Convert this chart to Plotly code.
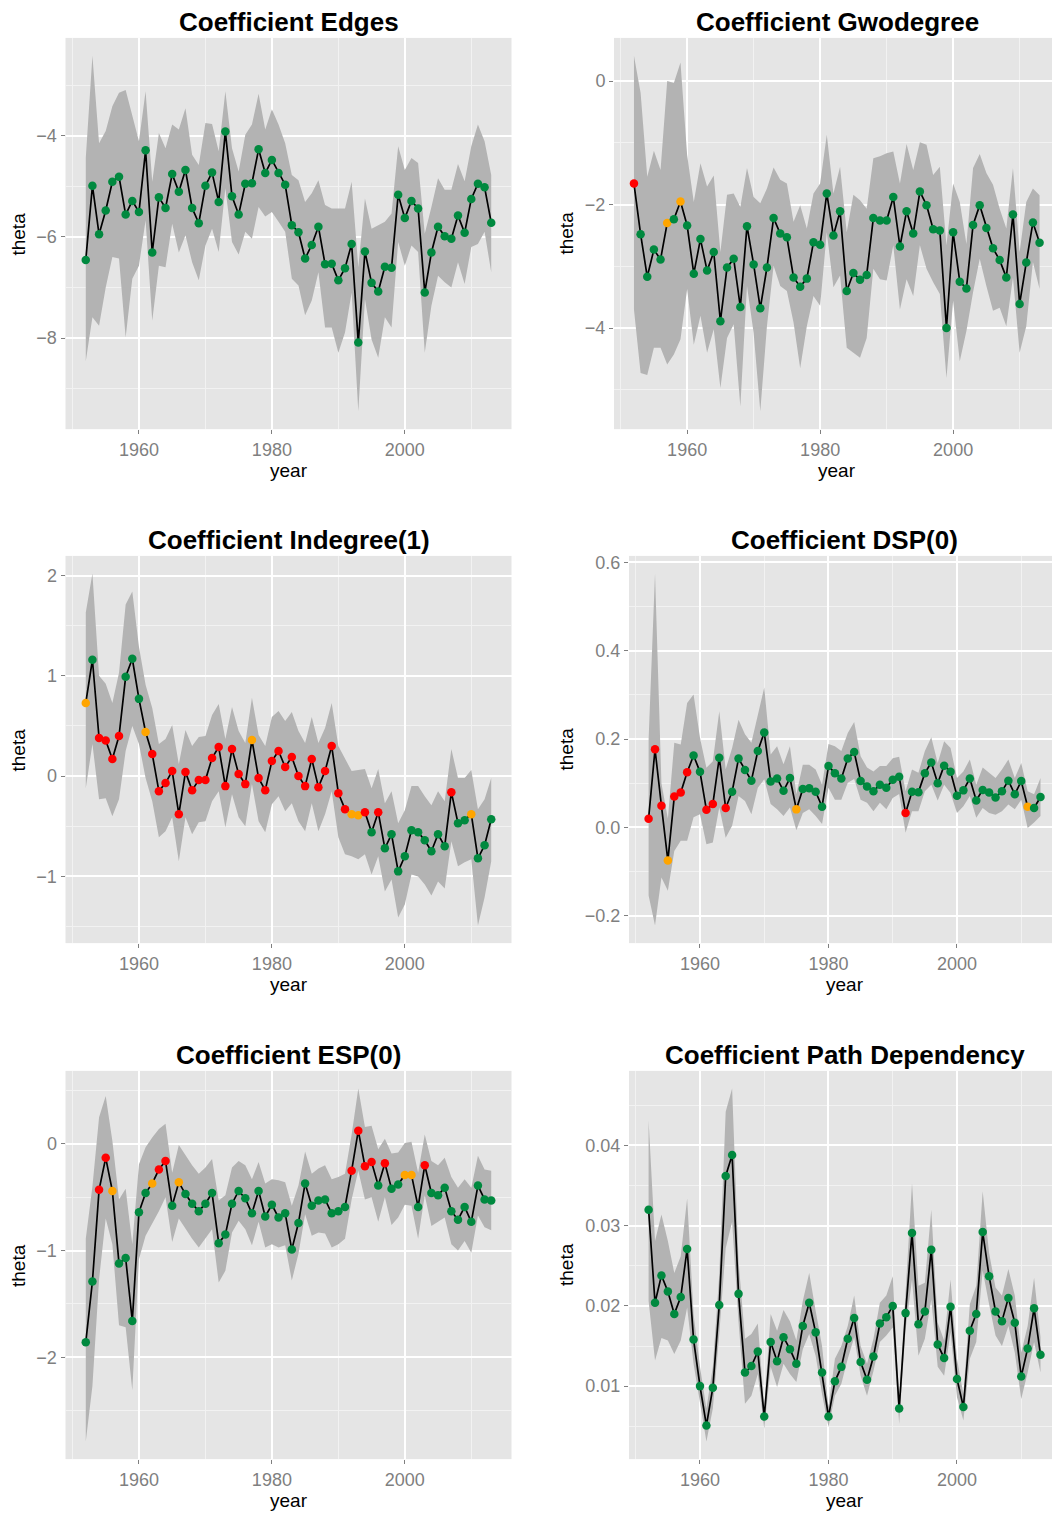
import plotly.graph_objects as go

# ---- data -------------------------------------------------------------
years = list(range(1952, 2014))

# Coefficient Edges
edges_est = [-6.46, -4.99, -5.95, -5.48, -4.91, -4.81, -5.56, -5.29, -5.51, -4.29,
             -6.31, -5.22, -5.43, -4.76, -5.11, -4.68, -5.43, -5.73, -4.99, -4.73,
             -5.31, -3.92, -5.20, -5.56, -4.95, -4.94, -4.27, -4.74, -4.48, -4.74,
             -4.97, -5.77, -5.91, -6.43, -6.16, -5.80, -6.54, -6.53, -6.86, -6.62,
             -6.14, -8.09, -6.29, -6.91, -7.08, -6.59, -6.61, -5.17, -5.63, -5.29,
             -5.44, -7.10, -6.31, -5.80, -5.99, -6.04, -5.58, -5.92, -5.25, -4.95,
             -5.02, -5.72]
edges_lo = [-8.46, -7.59, -7.76, -7.00, -6.40, -6.43, -7.99, -6.83, -6.57, -5.67,
            -7.66, -6.57, -6.60, -5.74, -6.31, -5.97, -6.50, -6.86, -6.17, -5.84,
            -6.30, -5.04, -6.10, -6.35, -5.90, -6.04, -5.41, -5.60, -5.51, -5.70,
            -5.90, -6.83, -6.96, -7.55, -7.26, -6.70, -7.79, -7.79, -8.29, -7.89,
            -7.10, -9.45, -7.23, -8.03, -8.39, -7.59, -7.79, -6.10, -6.57, -6.17,
            -6.30, -8.29, -7.36, -6.77, -6.90, -7.00, -6.50, -6.93, -6.20, -6.14,
            -5.90, -6.70]
edges_hi = [-4.44, -2.42, -4.15, -3.91, -3.42, -3.15, -3.10, -3.58, -4.11, -3.12,
            -4.91, -3.95, -4.25, -3.78, -3.88, -3.46, -4.38, -4.58, -3.75, -3.77,
            -4.31, -3.12, -4.25, -4.71, -3.98, -3.78, -3.17, -3.88, -3.48, -3.78,
            -4.15, -4.78, -4.88, -5.31, -5.14, -4.88, -5.37, -5.44, -5.44, -5.44,
            -4.91, -6.60, -5.24, -5.84, -5.77, -5.70, -5.54, -4.21, -4.68, -4.44,
            -4.54, -5.94, -5.41, -4.84, -5.07, -5.07, -4.56, -4.90, -4.21, -3.78,
            -4.11, -4.78]
edges_sig = "g" * 62

# Coefficient Gwodegree
gwd_est = [-1.66, -2.48, -3.17, -2.73, -2.89, -2.30, -2.24, -1.95, -2.34, -3.12,
           -2.56, -3.07, -2.77, -3.89, -3.02, -2.88, -3.66, -2.35, -2.97, -3.68,
           -3.02, -2.22, -2.47, -2.53, -3.18, -3.33, -3.20, -2.61, -2.65, -1.82,
           -2.50, -2.11, -3.40, -3.11, -3.22, -3.14, -2.22, -2.26, -2.26, -1.88,
           -2.68, -2.11, -2.47, -1.79, -2.01, -2.40, -2.42, -4.00, -2.45, -3.25,
           -3.36, -2.33, -2.01, -2.38, -2.71, -2.90, -3.18, -2.16, -3.61, -2.94,
           -2.29, -2.62]
gwd_lo = [-3.70, -4.73, -4.76, -4.32, -4.32, -4.59, -4.43, -4.18, -3.37, -4.27,
          -3.80, -4.40, -4.02, -4.97, -4.16, -3.94, -5.27, -3.32, -4.08, -5.35,
          -3.97, -2.99, -3.32, -3.40, -3.91, -4.65, -3.97, -3.48, -3.64, -2.45,
          -3.34, -3.15, -4.32, -4.40, -4.48, -4.16, -3.04, -3.21, -3.23, -2.66,
          -3.70, -3.21, -3.48, -2.66, -3.04, -3.26, -3.45, -4.81, -3.56, -4.54,
          -4.05, -3.42, -2.88, -3.32, -3.72, -3.67, -3.97, -3.18, -4.40, -3.97,
          -2.93, -3.37]
gwd_hi = [0.41, -0.19, -1.55, -1.13, -1.44, 0.00, -0.03, 0.30, -1.20, -1.96,
          -1.33, -1.71, -1.53, -2.77, -1.84, -1.82, -2.04, -1.41, -1.88, -1.98,
          -1.74, -1.40, -1.60, -1.66, -2.28, -2.01, -2.39, -1.82, -1.66, -0.87,
          -1.82, -1.39, -2.45, -1.84, -1.93, -2.07, -1.25, -1.22, -1.17, -1.14,
          -1.66, -1.02, -1.44, -0.99, -1.03, -1.52, -1.39, -2.66, -1.66, -1.96,
          -2.64, -1.41, -1.18, -1.49, -1.68, -2.07, -2.39, -1.41, -2.77, -1.96,
          -1.74, -1.85]
gwd_sig = "rggggogogg" + "g" * 52

# Coefficient Indegree(1)
indeg_est = [0.73, 1.16, 0.38, 0.355, 0.17, 0.40, 0.99, 1.17, 0.77, 0.44,
             0.22, -0.15, -0.07, 0.05, -0.38, 0.04, -0.14, -0.04, -0.04, 0.18,
             0.29, -0.10, 0.27, 0.02, -0.08, 0.36, -0.02, -0.14, 0.15, 0.25,
             0.09, 0.19, 0.00, -0.10, 0.17, -0.11, 0.05, 0.30, -0.17, -0.33,
             -0.38, -0.39, -0.36, -0.56, -0.36, -0.72, -0.58, -0.95, -0.80, -0.54,
             -0.56, -0.64, -0.75, -0.58, -0.70, -0.16, -0.47, -0.44, -0.38, -0.82,
             -0.69, -0.43]
indeg_lo = [-0.12, 0.32, -0.23, -0.22, -0.40, -0.23, 0.25, 0.50, 0.32, -0.02,
            -0.25, -0.61, -0.55, -0.41, -0.85, -0.41, -0.58, -0.46, -0.45, -0.25,
            -0.15, -0.51, -0.18, -0.41, -0.50, -0.08, -0.45, -0.56, -0.28, -0.20,
            -0.35, -0.27, -0.45, -0.55, -0.27, -0.55, -0.38, -0.15, -0.61, -0.78,
            -0.80, -0.83, -0.78, -0.98, -0.80, -1.15, -1.03, -1.41, -1.28, -0.98,
            -1.00, -1.08, -1.19, -1.05, -1.12, -0.65, -0.90, -0.86, -0.83, -1.49,
            -1.21, -0.85]
indeg_hi = [1.63, 2.02, 1.00, 0.92, 0.73, 1.03, 1.71, 1.84, 1.29, 0.91,
            0.68, 0.32, 0.37, 0.51, 0.12, 0.46, 0.30, 0.39, 0.40, 0.61,
            0.72, 0.37, 0.69, 0.45, 0.33, 0.78, 0.41, 0.30, 0.59, 0.65,
            0.55, 0.64, 0.45, 0.33, 0.59, 0.33, 0.48, 0.73, 0.30, 0.17,
            0.05, 0.06, 0.07, -0.12, 0.07, -0.27, -0.15, -0.47, -0.34, -0.10,
            -0.10, -0.20, -0.29, -0.15, -0.25, 0.27, -0.02, -0.02, 0.06, -0.33,
            -0.23, -0.02]
indeg_sig = ("ogrrrrgggo" "rrrrrrrrrr" "rrrrrorrrr" "rrrrrrrrrr"
             "oorgrggggg" "gggggrggog" "gg")

# Coefficient DSP(0)
dsp_est = [0.020, 0.177, 0.049, -0.075, 0.070, 0.079, 0.125, 0.163, 0.126, 0.040,
           0.053, 0.158, 0.044, 0.081, 0.156, 0.130, 0.106, 0.173, 0.215, 0.104,
           0.111, 0.083, 0.112, 0.041, 0.087, 0.089, 0.081, 0.047, 0.139, 0.123,
           0.111, 0.156, 0.171, 0.105, 0.093, 0.082, 0.097, 0.090, 0.108, 0.115,
           0.033, 0.081, 0.080, 0.123, 0.147, 0.100, 0.140, 0.126, 0.072, 0.084,
           0.111, 0.061, 0.085, 0.079, 0.068, 0.082, 0.106, 0.075, 0.105, 0.047,
           0.044, 0.069]
dsp_lo = [-0.154, -0.222, -0.113, -0.143, -0.053, -0.030, -0.030, 0.023, 0.030, -0.038,
          -0.034, 0.045, -0.023, 0.004, 0.071, 0.060, 0.030, 0.090, 0.109, 0.053,
          0.041, 0.026, 0.045, -0.006, 0.033, 0.041, 0.026, 0.008, 0.090, 0.063,
          0.063, 0.101, 0.110, 0.063, 0.056, 0.037, 0.056, 0.041, 0.067, 0.076,
          -0.012, 0.037, 0.037, 0.082, 0.097, 0.061, 0.097, 0.078, 0.033, 0.048,
          0.071, 0.022, 0.044, 0.033, 0.029, 0.037, 0.052, 0.041, 0.063, -0.001,
          0.011, 0.026]
dsp_hi = [0.200, 0.575, 0.100, 0.020, 0.192, 0.188, 0.282, 0.301, 0.203, 0.135,
          0.150, 0.263, 0.132, 0.180, 0.244, 0.211, 0.192, 0.256, 0.317, 0.165,
          0.184, 0.143, 0.184, 0.075, 0.142, 0.142, 0.131, 0.097, 0.189, 0.184,
          0.173, 0.214, 0.239, 0.161, 0.136, 0.127, 0.139, 0.139, 0.157, 0.160,
          0.082, 0.131, 0.124, 0.173, 0.204, 0.146, 0.195, 0.180, 0.112, 0.127,
          0.154, 0.097, 0.136, 0.124, 0.112, 0.131, 0.154, 0.112, 0.146, 0.082,
          0.075, 0.112]
dsp_sig = ("rrrorrrggr" "rgrggggggg" "gggogggggg" "gggggggggg"
           "rggggggggg" "gggggggggo" "gg")

# Coefficient ESP(0)
esp_est = [-1.86, -1.29, -0.43, -0.13, -0.44, -1.12, -1.07, -1.66, -0.64, -0.46,
           -0.37, -0.24, -0.16, -0.58, -0.36, -0.47, -0.56, -0.63, -0.56, -0.46,
           -0.93, -0.85, -0.56, -0.44, -0.51, -0.65, -0.44, -0.68, -0.57, -0.69,
           -0.65, -0.99, -0.74, -0.37, -0.58, -0.53, -0.52, -0.65, -0.63, -0.59,
           -0.25, 0.125, -0.21, -0.17, -0.39, -0.18, -0.42, -0.38, -0.29, -0.29,
           -0.59, -0.20, -0.46, -0.48, -0.41, -0.63, -0.71, -0.59, -0.73, -0.39,
           -0.52, -0.53]
esp_lo = [-2.79, -2.27, -1.27, -0.70, -0.94, -1.70, -1.72, -2.31, -1.08, -0.86,
          -0.75, -0.63, -0.50, -0.92, -0.70, -0.80, -0.89, -0.97, -0.88, -0.80,
          -1.30, -1.19, -0.83, -0.72, -0.80, -0.95, -0.73, -0.97, -0.94, -0.97,
          -0.95, -1.28, -1.03, -0.66, -0.86, -0.83, -0.84, -0.97, -0.94, -0.89,
          -0.52, -0.25, -0.52, -0.50, -0.73, -0.50, -0.76, -0.69, -0.57, -0.58,
          -0.89, -0.48, -0.77, -0.73, -0.69, -0.94, -1.00, -0.91, -1.02, -0.67,
          -0.78, -0.81]
esp_hi = [-0.89, -0.40, 0.25, 0.45, 0.03, -0.52, -0.42, -0.94, -0.19, -0.03,
          0.06, 0.14, 0.19, -0.27, -0.01, -0.11, -0.20, -0.28, -0.22, -0.14,
          -0.53, -0.48, -0.22, -0.16, -0.20, -0.33, -0.17, -0.37, -0.33, -0.34,
          -0.36, -0.58, -0.39, -0.07, -0.28, -0.23, -0.20, -0.33, -0.31, -0.28,
          0.09, 0.52, 0.16, 0.17, -0.05, 0.05, -0.09, -0.08, 0.01, 0.02,
          -0.27, 0.09, -0.16, -0.20, -0.13, -0.31, -0.41, -0.33, -0.41, -0.11,
          -0.24, -0.25]
esp_sig = ("ggrroggggg" "orrgoggggg" "gggggggggg" "gggggggggg"
           "rrrrgrggoo" "grgggggggg" "gg")

# Coefficient Path Dependency
path_est = [0.0320, 0.0204, 0.0238, 0.0218, 0.0190, 0.0211, 0.0271, 0.0158, 0.0100, 0.0051,
            0.0098, 0.0201, 0.0362, 0.0388, 0.0215, 0.0117, 0.0125, 0.0143, 0.0062, 0.0155,
            0.0131, 0.0161, 0.0146, 0.0128, 0.0175, 0.0204, 0.0167, 0.0117, 0.0062, 0.0106,
            0.0124, 0.0159, 0.0185, 0.0130, 0.0108, 0.0137, 0.0178, 0.0186, 0.0200, 0.0072,
            0.0191, 0.0291, 0.0177, 0.0193, 0.0270, 0.0152, 0.0135, 0.0199, 0.0109, 0.0074,
            0.0169, 0.0190, 0.0292, 0.0237, 0.0193, 0.0181, 0.0210, 0.0179, 0.0112, 0.0147,
            0.0197, 0.0139]
path_lo = [0.0206, 0.0132, 0.0160, 0.0157, 0.0140, 0.0157, 0.0198, 0.0128, 0.0080, 0.0031,
           0.0072, 0.0165, 0.0272, 0.0305, 0.0180, 0.0078, 0.0088, 0.0115, 0.0047, 0.0124,
           0.0099, 0.0128, 0.0115, 0.0105, 0.0146, 0.0165, 0.0138, 0.0090, 0.0049, 0.0088,
           0.0103, 0.0134, 0.0161, 0.0113, 0.0088, 0.0119, 0.0155, 0.0163, 0.0173, 0.0053,
           0.0171, 0.0233, 0.0138, 0.0159, 0.0208, 0.0124, 0.0113, 0.0167, 0.0086, 0.0057,
           0.0134, 0.0155, 0.0244, 0.0202, 0.0163, 0.0150, 0.0175, 0.0142, 0.0084, 0.0117,
           0.0155, 0.0117]
path_hi = [0.0431, 0.0281, 0.0314, 0.0281, 0.0241, 0.0262, 0.0334, 0.0190, 0.0124, 0.0072,
           0.0124, 0.0239, 0.0442, 0.0471, 0.0256, 0.0159, 0.0165, 0.0178, 0.0074, 0.0190,
           0.0169, 0.0195, 0.0181, 0.0157, 0.0206, 0.0241, 0.0194, 0.0150, 0.0074, 0.0134,
           0.0150, 0.0175, 0.0213, 0.0150, 0.0128, 0.0159, 0.0204, 0.0213, 0.0237, 0.0084,
           0.0217, 0.0353, 0.0225, 0.0229, 0.0320, 0.0179, 0.0157, 0.0233, 0.0134, 0.0090,
           0.0202, 0.0225, 0.0343, 0.0266, 0.0223, 0.0213, 0.0246, 0.0213, 0.0142, 0.0175,
           0.0235, 0.0161]
path_sig = "g" * 62

# ---- styling ----------------------------------------------------------
W, H = 1052, 1516
FONT = "Liberation Sans, Arial, Helvetica, sans-serif"
SIG_COLORS = {"g": "#00893F", "o": "#FFA500", "r": "#FF0000"}
RIBBON = "#B3B3B3"
PANEL_BG = "#E5E5E5"
TICK_GREY = "#7F7F7F"

# panel boxes in pixels: left, top, bottom; box_w is the full panel width
panels = [
    dict(title="Coefficient Edges", est=edges_est, lo=edges_lo, hi=edges_hi, sig=edges_sig,
         box=(65.5, 35, 427), xr=(1948.95, 2016.05), box_w=446,
         ytick0=-4, ydtick=2, yminor=1, yfmt=None),
    dict(title="Coefficient Gwodegree", est=gwd_est, lo=gwd_lo, hi=gwd_hi, sig=gwd_sig,
         box=(614, 35, 427), xr=(1949.0, 2014.87), box_w=446,
         ytick0=0, ydtick=2, yminor=1, yfmt=None),
    dict(title="Coefficient Indegree(1)", est=indeg_est, lo=indeg_lo, hi=indeg_hi, sig=indeg_sig,
         box=(65.5, 554, 942), xr=(1948.95, 2016.05), box_w=446,
         ytick0=0, ydtick=1, yminor=0.5, yfmt=None),
    dict(title="Coefficient DSP(0)", est=dsp_est, lo=dsp_lo, hi=dsp_hi, sig=dsp_sig,
         box=(629, 554, 942), xr=(1948.95, 2014.79), box_w=431,
         ytick0=0, ydtick=0.2, yminor=0.1, yfmt=".1f"),
    dict(title="Coefficient ESP(0)", est=esp_est, lo=esp_lo, hi=esp_hi, sig=esp_sig,
         box=(65.5, 1070, 1459), xr=(1948.95, 2016.05), box_w=446,
         ytick0=0, ydtick=1, yminor=0.5, yfmt=None),
    dict(title="Coefficient Path Dependency", est=path_est, lo=path_lo, hi=path_hi, sig=path_sig,
         box=(629, 1070, 1459), xr=(1948.95, 2014.79), box_w=431,
         ytick0=0.01, ydtick=0.01, yminor=0.005, yfmt=".2f"),
]

fig = go.Figure()
layout = dict(
    width=W, height=H,
    margin=dict(l=0, r=0, t=0, b=0),
    paper_bgcolor="white",
    plot_bgcolor=PANEL_BG,
    showlegend=False,
    font=dict(family=FONT, color="black"),
)
annotations = []

for k, p in enumerate(panels):
    n = "" if k == 0 else str(k + 1)
    xa, ya = "x" + n, "y" + n
    left, top, bottom = p["box"]
    right = left + p["box_w"] if k % 2 == 0 else W
    col_centre = left + p["box_w"] / 2

    # confidence ribbon
    fig.add_trace(go.Scatter(
        x=years + years[::-1], y=p["hi"] + p["lo"][::-1],
        fill="toself", fillcolor=RIBBON, line=dict(width=0),
        mode="lines", hoverinfo="skip", xaxis=xa, yaxis=ya))
    # estimate line
    fig.add_trace(go.Scatter(
        x=years, y=p["est"], mode="lines",
        line=dict(color="black", width=1.7), xaxis=xa, yaxis=ya))
    # estimate points coloured by significance
    fig.add_trace(go.Scatter(
        x=years, y=p["est"], mode="markers",
        marker=dict(size=8.5, color=[SIG_COLORS[c] for c in p["sig"]], line=dict(width=0)),
        xaxis=xa, yaxis=ya))

    lo_all, hi_all = min(p["lo"]), max(p["hi"])
    span = hi_all - lo_all
    yr = (lo_all - 0.05 * span, hi_all + 0.05 * span)

    layout["xaxis" + n] = dict(
        domain=[left / W, right / W], anchor=ya, range=list(p["xr"]),
        tickmode="linear", tick0=1960, dtick=20,
        ticks="outside", ticklen=4, tickwidth=1, tickcolor=TICK_GREY,
        tickfont=dict(family=FONT, size=18, color=TICK_GREY),
        showgrid=True, gridcolor="white", gridwidth=1.6,
        minor=dict(tick0=1950, dtick=10, showgrid=True, gridcolor="#F2F2F2",
                   gridwidth=0.9, ticks=""),
        zeroline=False, showline=False, fixedrange=True)
    yax = dict(
        domain=[1 - bottom / H, 1 - top / H], anchor=xa, range=list(yr),
        tickmode="linear", tick0=p["ytick0"], dtick=p["ydtick"],
        ticks="outside", ticklen=4, tickwidth=1, tickcolor=TICK_GREY,
        tickfont=dict(family=FONT, size=18, color=TICK_GREY),
        showgrid=True, gridcolor="white", gridwidth=1.6,
        minor=dict(tick0=p["ytick0"], dtick=p["yminor"], showgrid=True,
                   gridcolor="#F2F2F2", gridwidth=0.9, ticks=""),
        zeroline=False, showline=False, fixedrange=True)
    if p["yfmt"]:
        yax["tickformat"] = p["yfmt"]
    layout["yaxis" + n] = yax

    # panel title, x title, y title
    annotations.append(dict(
        text="<b>" + p["title"] + "</b>", x=col_centre / W, y=1 - (top - 15.5) / H,
        xref="paper", yref="paper", xanchor="center", yanchor="middle",
        showarrow=False, font=dict(family=FONT, size=26, color="black")))
    annotations.append(dict(
        text="year", x=col_centre / W, y=1 - (bottom + 41) / H,
        xref="paper", yref="paper", xanchor="center", yanchor="middle",
        showarrow=False, font=dict(family=FONT, size=19, color="black")))
    annotations.append(dict(
        text="theta", x=(19 if k % 2 == 0 else 567) / W, y=1 - ((top + bottom) / 2) / H,
        xref="paper", yref="paper", xanchor="center", yanchor="middle", textangle=-90,
        showarrow=False, font=dict(family=FONT, size=19, color="black")))

layout["annotations"] = annotations
fig.update_layout(**layout)
fig.write_html("out.html")
